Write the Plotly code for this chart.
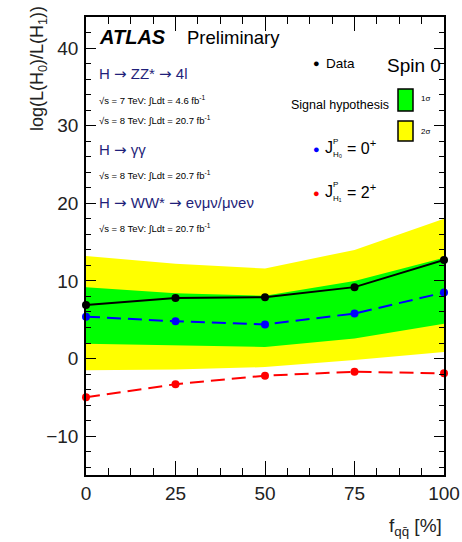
import plotly.graph_objects as go

# ---------------- data ----------------
f_qq = [0, 25, 50, 75, 100]
data_obs = [6.9, 7.8, 7.9, 9.2, 12.7]
exp_0plus = [5.4, 4.8, 4.4, 5.8, 8.5]
exp_2plus = [-5.0, -3.3, -2.2, -1.7, -1.9]
band1_lo = [1.9, 1.7, 1.5, 2.6, 4.5]
band1_hi = [9.2, 8.4, 8.1, 10.0, 13.0]
band2_lo = [-1.5, -1.4, -1.1, -0.2, 0.85]
band2_hi = [13.2, 12.2, 11.6, 14.0, 18.0]
x_ticks = [0, 25, 50, 75, 100]
y_ticks = [-10, 0, 10, 20, 30, 40]

FONT = "Liberation Sans, Arial, Helvetica, sans-serif"
W, H = 462, 542
L, R, T, B = 86, 444, 17, 475
PW, PH = R - L, B - T


def P(px, py):
    return (px - L) / PW, (B - py) / PH


fig = go.Figure()

# 2 sigma band
fig.add_trace(go.Scatter(x=f_qq, y=band2_lo, mode="lines", line=dict(width=0, color="#ffff00"),
                         showlegend=False, hoverinfo="skip"))
fig.add_trace(go.Scatter(x=f_qq, y=band2_hi, mode="lines", line=dict(width=0, color="#ffff00"),
                         fill="tonexty", fillcolor="#ffff00", showlegend=False, hoverinfo="skip"))
# 1 sigma band
fig.add_trace(go.Scatter(x=f_qq, y=band1_lo, mode="lines", line=dict(width=0, color="#00ff00"),
                         showlegend=False, hoverinfo="skip"))
fig.add_trace(go.Scatter(x=f_qq, y=band1_hi, mode="lines", line=dict(width=0, color="#00ff00"),
                         fill="tonexty", fillcolor="#00ff00", showlegend=False, hoverinfo="skip"))

fig.add_trace(go.Scatter(x=f_qq, y=exp_0plus, mode="lines+markers",
                         line=dict(color="#0000ff", width=2, dash="14px,7px"),
                         marker=dict(color="#0000ff", size=8), showlegend=False, cliponaxis=False))
fig.add_trace(go.Scatter(x=f_qq, y=exp_2plus, mode="lines+markers",
                         line=dict(color="#ff0000", width=2, dash="14px,7px"),
                         marker=dict(color="#ff0000", size=8), showlegend=False, cliponaxis=False))
fig.add_trace(go.Scatter(x=f_qq, y=data_obs, mode="lines+markers",
                         line=dict(color="#000000", width=2),
                         marker=dict(color="#000000", size=8), showlegend=False, cliponaxis=False))

# invisible trace on mirrored axes so they get drawn
fig.add_trace(go.Scatter(x=[0, 100], y=[-15, 44], xaxis="x2", yaxis="y2", mode="markers",
                         marker=dict(opacity=0), showlegend=False, hoverinfo="skip"))

axis_common = dict(showgrid=False, zeroline=False, showline=True, linecolor="black", linewidth=1.5,
                   ticks="inside", tickcolor="black", tickwidth=1.2, automargin=False,
                   tickfont=dict(family=FONT, size=19, color="#222222"))
xminor = dict(ticks="inside", dtick=6.25, tick0=0, ticklen=7, tickcolor="black", tickwidth=1.2)
yminor = dict(ticks="inside", dtick=2, tick0=0, ticklen=5, tickcolor="black", tickwidth=1.2)

fig.update_layout(
    width=W, height=H,
    margin=dict(l=L, r=W - R, t=T, b=H - B, pad=0, autoexpand=False),
    paper_bgcolor="white", plot_bgcolor="white",
    showlegend=False,
    xaxis=dict(range=[0, 100], tickvals=x_ticks, ticklen=14, minor=xminor, **axis_common),
    yaxis=dict(range=[-15, 44], tickvals=y_ticks, ticklen=10, ticklabelstandoff=2, minor=yminor,
               **axis_common),
    xaxis2=dict(range=[0, 100], tickvals=x_ticks, ticklen=14, minor=xminor, overlaying="x", side="top",
                showticklabels=False, **axis_common),
    yaxis2=dict(range=[-15, 44], tickvals=y_ticks, ticklen=10, minor=yminor, overlaying="y", side="right",
                showticklabels=False, **axis_common),
)

TXT = "#1f1f7a"
ARW = '<span style="font-family:DejaVu Sans">→</span>'
ann = []


def add_text(px, py, text, size, color="black", xanchor="left", yanchor="middle", **kw):
    x, y = P(px, py)
    ann.append(dict(x=x, y=y, xref="paper", yref="paper", text=text, showarrow=False,
                    xanchor=xanchor, yanchor=yanchor,
                    font=dict(family=FONT, size=size, color=color), **kw))


add_text(97, 37, "<b><i>ATLAS</i></b>", 20)
add_text(185, 37, "Preliminary", 18.5)
add_text(97, 74, f"H {ARW} ZZ* {ARW} 4l", 15, TXT)
add_text(97, 100, "√s = 7 TeV: ∫Ldt = 4.6 fb<sup>-1</sup>", 9.5)
add_text(97, 120, "√s = 8 TeV: ∫Ldt = 20.7 fb<sup>-1</sup>", 9.5)
add_text(97, 150, f"H {ARW} γγ", 15, TXT)
add_text(97, 175, "√s = 8 TeV: ∫Ldt = 20.7 fb<sup>-1</sup>", 9.5)
add_text(97, 203, f"H {ARW} WW* {ARW} eνμν/μνeν", 15, TXT)
add_text(97, 228, "√s = 8 TeV: ∫Ldt = 20.7 fb<sup>-1</sup>", 9.5)

# legend
add_text(316, 63, "●", 11, "black", xanchor="center")
add_text(324, 63, "Data", 13.5)
add_text(443, 65, "Spin 0", 19, xanchor="right")
add_text(289, 105, "Signal hypothesis", 12.5)
add_text(419, 99, "1σ", 8)
add_text(419, 131, "2σ", 8)
add_text(316, 149, "●", 11, "#0000ff", xanchor="center")
add_text(323, 147, "J", 16)
add_text(331, 141, "P", 8)
add_text(331, 154, "H₀", 8)
add_text(345, 147, "= 0<sup>+</sup>", 16)
add_text(316, 193, "●", 11, "#ff0000", xanchor="center")
add_text(323, 191, "J", 16)
add_text(331, 185, "P", 8)
add_text(331, 198, "H₁", 8)
add_text(345, 191, "= 2<sup>+</sup>", 16)

# axis titles
add_text(38, 69, "log(L(H<sub>0</sub>)/L(H<sub>1</sub>))", 18, "#222222", xanchor="center", textangle=-90)
add_text(444, 527, "f<sub>qq̄</sub> [%]", 19, "#222222", xanchor="right")

fig.update_layout(annotations=ann)

shapes = []
for (x0, y0, x1, y1, col) in [(398, 89, 413, 111, "#00ff00"), (398, 121, 413, 141, "#ffff00")]:
    a0, b0 = P(x0, y1)
    a1, b1 = P(x1, y0)
    shapes.append(dict(type="rect", xref="paper", yref="paper", x0=a0, y0=b0, x1=a1, y1=b1,
                       fillcolor=col, line=dict(color="black", width=1.5)))
fig.update_layout(shapes=shapes)

fig.write_html("out.html", config={"displayModeBar": False},
               post_script="document.body.style.margin='0px';document.body.style.overflow='hidden';")
